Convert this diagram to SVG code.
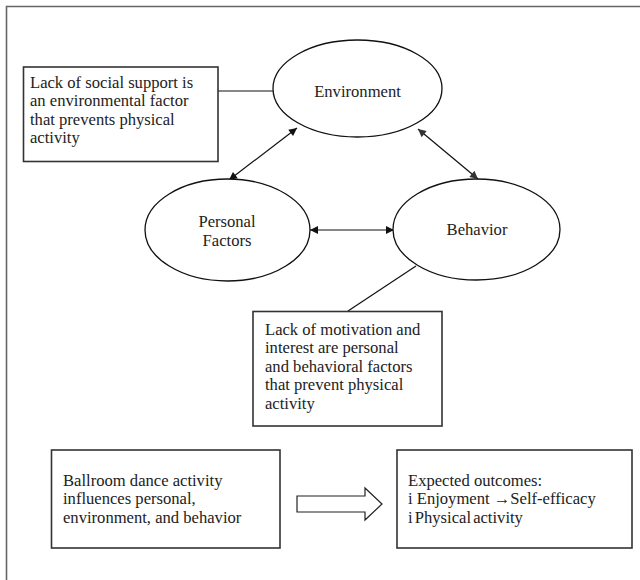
<svg xmlns="http://www.w3.org/2000/svg" width="640" height="580" viewBox="0 0 640 580">
<style>
text { font-family: "Liberation Serif", "Times New Roman", serif; font-size: 16.6px; fill: #222; }
.node { fill: #fff; stroke: #111; stroke-width: 1.3; }
.box { fill: #fff; stroke: #333; stroke-width: 1.6; }
.mid { text-anchor: middle; }
.con { fill: none; stroke: #111; stroke-width: 1.2; }
</style>
<defs>
<marker id="ah" viewBox="0 0 10 10" refX="10" refY="5" markerWidth="9" markerHeight="8" markerUnits="userSpaceOnUse" orient="auto-start-reverse">
<path d="M0,0 L10,5 L0,10 z" fill="#111"/>
</marker>
<marker id="ahg" viewBox="0 0 10 10" refX="10" refY="5" markerWidth="9" markerHeight="8" markerUnits="userSpaceOnUse" orient="auto-start-reverse">
<path d="M0,0 L10,5 L0,10 z" fill="#333"/>
</marker>
</defs>
<rect width="640" height="580" fill="#fff"/>
<path d="M6.5,580 V6.5 H640" fill="none" stroke="#666" stroke-width="1.6"/>

<g id="connectors">
<line class="con" x1="218" y1="91" x2="273" y2="91"/>
<line class="con" x1="229" y1="180" x2="297" y2="128" marker-start="url(#ah)" marker-end="url(#ah)"/>
<line class="con" x1="418" y1="129" x2="478" y2="179" stroke="#666" marker-start="url(#ahg)" marker-end="url(#ahg)"/>
<line class="con" x1="310" y1="230" x2="394" y2="230" marker-start="url(#ah)" marker-end="url(#ah)"/>
<line class="con" x1="416" y1="266" x2="348" y2="311" stroke-width="0.9"/>
<path d="M297,496 H365 V488 L382,504 L365,520 V512 H297 Z" fill="#fff" stroke="#222" stroke-width="1.2"/>
</g>

<g id="note-social">
<rect class="box" x="23.5" y="67" width="194.5" height="94.5"/>
<text x="30" y="88">Lack of social support is</text>
<text x="30" y="106.4">an environmental factor</text>
<text x="30" y="124.8">that prevents physical</text>
<text x="30" y="143.2">activity</text>
</g>

<g id="environment">
<ellipse class="node" cx="357.5" cy="88.5" rx="84.5" ry="48.5"/>
<text class="mid" x="357.5" y="97">Environment</text>
</g>

<g id="personal">
<ellipse class="node" cx="227.5" cy="230" rx="82.5" ry="51"/>
<text class="mid" x="227" y="227">Personal</text>
<text class="mid" x="227" y="246">Factors</text>
</g>

<g id="behavior">
<ellipse class="node" cx="476.5" cy="229.5" rx="83.5" ry="50.5"/>
<text class="mid" x="477" y="235">Behavior</text>
</g>

<g id="note-motivation">
<rect class="box" x="253" y="311.5" width="189" height="114.5"/>
<text x="265" y="335">Lack of motivation and</text>
<text x="265" y="353.4">interest are personal</text>
<text x="265" y="371.8">and behavioral factors</text>
<text x="265" y="390.2">that prevent physical</text>
<text x="265" y="408.6">activity</text>
</g>

<g id="ballroom">
<rect class="box" x="51.5" y="450" width="228.5" height="98"/>
<text x="63" y="486">Ballroom dance activity</text>
<text x="63" y="504.4">influences personal,</text>
<text x="63" y="522.8">environment, and  behavior</text>
</g>

<g id="outcomes">
<rect class="box" x="397" y="450" width="235" height="98"/>
<text x="408" y="486">Expected outcomes:</text>
<text x="408" y="504.4">i Enjoyment →Self-efficacy</text>
<text x="408" y="522.8" word-spacing="-2">i Physical activity</text>
</g>
</svg>
